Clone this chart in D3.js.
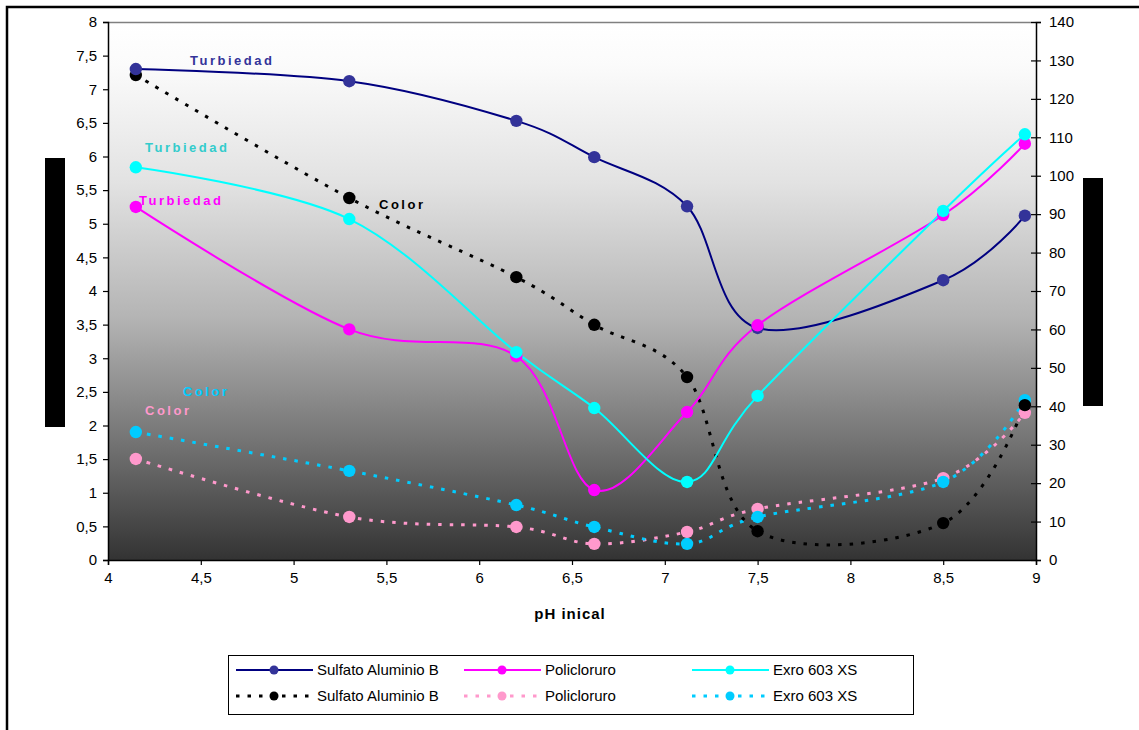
<!DOCTYPE html>
<html>
<head>
<meta charset="utf-8">
<script src="https://cdn.jsdelivr.net/npm/d3@7"></script>
<style>
  html, body { margin: 0; padding: 0; background: #fff; }
  svg { display: block; font-family: "Liberation Sans", Arial, sans-serif; }
</style>
</head>
<body>
<svg id="chart" width="1139" height="730"></svg>
<script>
// ---------- data ----------
const phValues = [4.15, 5.3, 6.2, 6.62, 7.12, 7.5, 8.5, 8.94];

// Turbiedad (left axis)
const turbSulfato = [7.30, 7.12, 6.53, 5.99, 5.26, 3.45, 4.16, 5.12];
const turbPoli    = [5.25, 3.43, 3.03, 1.04, 2.20, 3.49, 5.13, 6.19];
const turbExro    = [5.84, 5.07, 3.09, 2.26, 1.16, 2.44, 5.19, 6.33];

// Color (right axis)
const colorSulfato = [126.2, 94.2, 73.6, 61.2, 47.6, 7.5, 9.6, 40.3];
const colorPoli    = [26.3, 11.2, 8.6, 4.2, 7.3, 13.3, 21.3, 38.3];
const colorExro    = [33.3, 23.2, 14.3, 8.6, 4.2, 11.2, 20.3, 41.6];

const xTicks = [4, 4.5, 5, 5.5, 6, 6.5, 7, 7.5, 8, 8.5, 9];
const yLeftTicks = [0, 0.5, 1, 1.5, 2, 2.5, 3, 3.5, 4, 4.5, 5, 5.5, 6, 6.5, 7, 7.5, 8];
const yRightTicks = [0, 10, 20, 30, 40, 50, 60, 70, 80, 90, 100, 110, 120, 130, 140];

const seriesNames = ["Sulfato Aluminio B", "Policloruro", "Exro 603 XS"];
const xTitle = "pH inical";

// ---------- layout ----------
const svg = d3.select("#chart");
const L = 108, R = 1036, T = 22, B = 560;

const x = d3.scaleLinear().domain([4, 9]).range([L, R]);
const yL = d3.scaleLinear().domain([0, 8]).range([B, T]);
const yR = d3.scaleLinear().domain([0, 140]).range([B, T]);
const fmt = d => String(d).replace(".", ",");

// outer frame
svg.append("rect").attr("x", 7).attr("y", 7).attr("width", 1150).attr("height", 740)
  .attr("fill", "none").attr("stroke", "#000").attr("stroke-width", 2.5);

// gradient plot background
const defs = svg.append("defs");
const grad = defs.append("linearGradient").attr("id", "bg").attr("x1", 0).attr("y1", 0).attr("x2", 0).attr("y2", 1);
[[0, "#ffffff"], [0.08, "#fbfbfb"], [0.3, "#e2e2e2"], [0.55, "#b4b4b4"], [0.8, "#6e6e6e"], [1, "#333333"]]
  .forEach(([o, c]) => grad.append("stop").attr("offset", o).attr("stop-color", c));
svg.append("rect").attr("x", L).attr("y", T).attr("width", R - L).attr("height", B - T)
  .attr("fill", "url(#bg)");
svg.append("line").attr("x1", L).attr("x2", R).attr("y1", T + 0.5).attr("y2", T + 0.5)
  .attr("stroke", "#808080").attr("stroke-width", 1.5);

// axes
const axBottom = svg.append("g").attr("transform", `translate(0,${B})`)
  .call(d3.axisBottom(x).tickValues(xTicks).tickFormat(fmt).tickSize(5).tickPadding(7));
const axLeft = svg.append("g").attr("transform", `translate(${L},0)`)
  .call(d3.axisLeft(yL).tickValues(yLeftTicks).tickFormat(fmt).tickSize(5).tickPadding(6));
const axRight = svg.append("g").attr("transform", `translate(${R},0)`)
  .call(d3.axisRight(yR).tickValues(yRightTicks).tickSize(5).tickPadding(8));
axRight.selectAll(".tick line").attr("x1", -5);
[axBottom, axLeft, axRight].forEach(a => {
  a.select(".domain").attr("stroke", "#000").attr("stroke-width", 1.5);
  a.selectAll(".tick line").attr("stroke", "#000").attr("stroke-width", 1.2);
  a.selectAll("text").attr("font-size", 15).attr("fill", "#000")
    .attr("font-family", "'Liberation Sans', Arial, sans-serif");
});

// x title
svg.append("text").attr("x", 570).attr("y", 619).attr("text-anchor", "middle")
  .attr("font-size", 15).attr("font-weight", "bold").attr("letter-spacing", 1)
  .text(xTitle);

// black boxes (axis titles)
svg.append("rect").attr("x", 45).attr("y", 158).attr("width", 20).attr("height", 269).attr("fill", "#000");
svg.append("rect").attr("x", 1083).attr("y", 178).attr("width", 20).attr("height", 228).attr("fill", "#000");

// ---------- series ----------
const series = [
  { vals: turbSulfato, scale: yL, line: "#000080", marker: "#333399", dash: null, w: 2 },
  { vals: turbPoli, scale: yL, line: "#ff00ff", marker: "#ff00ff", dash: null, w: 2 },
  { vals: turbExro, scale: yL, line: "#00ffff", marker: "#00ffff", dash: null, w: 2 },
  { vals: colorSulfato, scale: yR, line: "#000000", marker: "#000000", dash: "3.5,8", w: 3 },
  { vals: colorPoli, scale: yR, line: "#ff99cc", marker: "#ff99cc", dash: "3.5,8", w: 3 },
  { vals: colorExro, scale: yR, line: "#00ccff", marker: "#00ccff", dash: "3.5,8", w: 3 }
];
const drawOrder = [4, 5, 3, 0, 1, 2];
drawOrder.forEach(i => {
  const s = series[i];
  const pts = phValues.map((p, k) => [x(p), s.scale(s.vals[k])]);
  svg.append("path").attr("d", d3.line().curve(d3.curveCardinal.tension(0))(pts))
    .attr("fill", "none").attr("stroke", s.line).attr("stroke-width", s.w)
    .attr("stroke-dasharray", s.dash);
});
drawOrder.forEach(i => {
  const s = series[i];
  svg.append("g").selectAll("circle").data(phValues).join("circle")
    .attr("cx", p => x(p)).attr("cy", (p, k) => s.scale(s.vals[k])).attr("r", 6.2)
    .attr("fill", s.marker);
});

// ---------- annotations ----------
const annos = [
  { t: "Turbiedad", c: "#333399", px: 190, py: 65 },
  { t: "Turbiedad", c: "#33cccc", px: 145, py: 152 },
  { t: "Turbiedad", c: "#ff00ff", px: 139, py: 205 },
  { t: "Color", c: "#000000", px: 379, py: 209 },
  { t: "Color", c: "#00ccff", px: 183, py: 396 },
  { t: "Color", c: "#ff99cc", px: 145, py: 415 }
];
svg.append("g").selectAll("text").data(annos).join("text")
  .attr("x", d => d.px).attr("y", d => d.py).attr("fill", d => d.c)
  .attr("font-size", 13).attr("font-weight", "bold").attr("letter-spacing", 2.5)
  .text(d => d.t);

// ---------- legend ----------
const lg = svg.append("g");
lg.append("rect").attr("x", 228.5).attr("y", 655.5).attr("width", 685).attr("height", 59)
  .attr("fill", "#fff").attr("stroke", "#000").attr("stroke-width", 1);
const colX = [236, 464, 692];
const rowY = [670, 696];
series.forEach((s, i) => {
  const col = i % 3, row = Math.floor(i / 3);
  const x0 = colX[col], yy = rowY[row];
  lg.append("line").attr("x1", x0).attr("x2", x0 + 77).attr("y1", yy).attr("y2", yy)
    .attr("stroke", s.line).attr("stroke-width", s.w).attr("stroke-dasharray", s.dash);
  lg.append("circle").attr("cx", x0 + 38).attr("cy", yy).attr("r", 4.5).attr("fill", s.marker);
  lg.append("text").attr("x", x0 + 81).attr("y", yy + 5).attr("font-size", 15).text(seriesNames[col]);
});
</script>
</body>
</html>
